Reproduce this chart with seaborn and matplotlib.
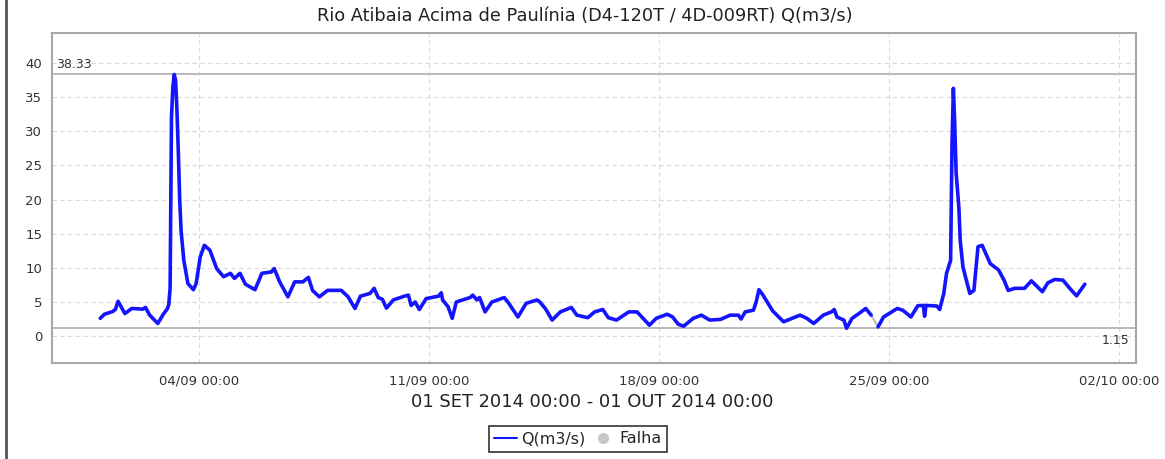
import numpy as np
import pandas as pd
import seaborn as sns
import matplotlib.pyplot as plt
from matplotlib.lines import Line2D
import matplotlib.dates as mdates

# Hours since 01/09/2014 00:00 and the flow read at each one (NaN = gap / falha)
horas = [0, 3, 9, 11, 13, 18, 23, 31, 33, 36, 42, 46, 49, 50, 51, 52, 53, 54, 55, 56,
         57, 58, 59, 61, 64, 68, 70, 73, 76, 80, 85, 90, 95, 98, 102, 106, 113, 118, 125, 127,
         131, 137, 142, 148, 152, 155, 160, 166, 176, 181, 186, 190, 197, 200, 203, 206, 209, 214, 222, 225,
         227, 230, 233, 238, 247, 249, 250, 254, 257, 260, 270, 272, 275, 277, 281, 286, 295, 298, 305, 311,
         319, 321, 325, 330, 336, 344, 348, 356, 361, 367, 371, 377, 386, 392, 401, 406, 414, 418, 422, 426,
         433, 439, 445, 453, 460, 466, 468, 471, 477, 479, 481, 484, 491, 499, 511, 516, 521, 528, 534, 536,
         538, 543, 545, 549, 554, 559, 563, 566, 568, 572, 582, 586, 592, 597, 601, 602, 603, 611, 613, 616,
         618, 621, 622, 623, 624, 625, 627, 628, 630, 635, 638, 641, 644, 650, 656, 660, 663, 668, 675, 680,
         688, 692, 697, 703, 708, 713, 719]
vazao = [2.6, 3.2, 3.6, 3.9, 5.1, 3.3, 4.05, 3.95, 4.2, 3.1, 1.85, 3.2, 4.0, 4.6, 7.0, 32.0, 36.5, 38.33, 37.5, 33.0,
         27.0, 20.0, 15.5, 11.1, 7.7, 6.8, 7.7, 11.6, 13.3, 12.6, 9.9, 8.7, 9.2, 8.45, 9.2, 7.6, 6.8, 9.2, 9.4, 9.9,
         7.95, 5.75, 7.95, 7.95, 8.6, 6.7, 5.75, 6.7, 6.7, 5.75, 4.05, 5.85, 6.25, 7.0, 5.65, 5.4, 4.1, 5.3, 5.85, 6.0,
         4.5, 5.0, 3.9, 5.5, 5.85, 6.35, 5.3, 4.3, 2.6, 5.0, 5.65, 6.0, 5.3, 5.65, 3.55, 5.0, 5.65, 4.9, 2.8, 4.8,
         5.3, 5.0, 4.05, 2.35, 3.55, 4.2, 3.07, 2.7, 3.55, 3.9, 2.7, 2.35, 3.55, 3.55, 1.6, 2.6, 3.2, 2.8, 1.75, 1.45,
         2.6, 3.07, 2.35, 2.45, 3.07, 3.07, 2.5, 3.55, 3.8, 5.0, 6.8, 6.0, 3.7, 2.1, 3.07, 2.6, 1.85, 3.07, 3.55, 3.9,
         2.8, 2.35, 1.15, 2.6, 3.3, 4.05, 3.07, np.nan, 1.36, 2.8, 4.05, 3.8, 2.8, 4.45, 4.5, 2.9, 4.5, 4.4, 3.9, 6.25,
         9.2, 11.1, 28.0, 36.3, 31.0, 24.0, 18.9, 14.0, 10.1, 6.25, 6.7, 13.1, 13.3, 10.6, 9.7, 8.2, 6.7, 7.0, 7.0, 8.1,
         6.5, 7.8, 8.3, 8.2, 7.0, 5.9, 7.6]

q_max = 38.33
q_min = 1.15
xticks = ['2014-09-04', '2014-09-11', '2014-09-18', '2014-09-25', '2014-10-02']
yticks = [0, 5, 10, 15, 20, 25, 30, 35, 40]

inicio = pd.Timestamp('2014-09-01 00:00')
df = pd.DataFrame({'t': inicio + pd.to_timedelta(horas, unit='h'), 'q': vazao})
df['seg'] = df['q'].isna().cumsum()
ok = df.dropna()

sns.set_style('white')
plt.rcParams['font.family'] = ['DejaVu Sans']

fig = plt.figure(figsize=(11.65, 4.59), dpi=100)
ax = fig.add_axes([0.0446, 0.209, 0.9305, 0.719])

# gray line across the gap (Falha), blue series on top
ax.plot(ok['t'], ok['q'], color='#bdbdbd', lw=1.6, zorder=2)
sns.lineplot(data=ok, x='t', y='q', units='seg', estimator=None, ax=ax,
             color='#1414ff', lw=2.6, zorder=3, legend=False)

# min / max reference lines
ax.axhline(q_max, color='#b4b4b4', lw=1.3, zorder=1)
ax.axhline(q_min, color='#b4b4b4', lw=1.3, zorder=1)
ax.text(0.004, q_max + 0.5, f'{q_max:.2f}', transform=ax.get_yaxis_transform(),
        ha='left', va='bottom', fontsize=9, color='#333333')
ax.text(0.994, q_min - 0.8, f'{q_min:.2f}', transform=ax.get_yaxis_transform(),
        ha='right', va='top', fontsize=9, color='#333333')

ax.set_xlim(pd.Timestamp('2014-08-30 12:43'), pd.Timestamp('2014-10-02 12:22'))
ax.set_ylim(-3.95, 44.4)
ax.set_xticks(pd.to_datetime(xticks))
ax.xaxis.set_major_formatter(mdates.DateFormatter('%d/%m %H:%M'))
ax.set_yticks(yticks)
ax.set_xlabel('')
ax.set_ylabel('')

ax.grid(True, ls=(0, (4, 3)), color='#d9d9d9', lw=0.8)
for s in ax.spines.values():
    s.set_color('#a8a8a8')
    s.set_linewidth(1.5)
ax.tick_params(axis='both', length=3, color='#888888', labelsize=9.5,
               labelcolor='#333333', direction='out', pad=4)
ax.tick_params(axis='x', pad=5)

fig.text(0.502, 0.965, 'Rio Atibaia Acima de Paulínia (D4-120T / 4D-009RT) Q(m3/s)',
         ha='center', va='center', fontsize=12.8, color='#222222')
fig.text(0.508, 0.124, '01 SET 2014 00:00 - 01 OUT 2014 00:00',
         ha='center', va='center', fontsize=12.9, color='#222222')

handles = [Line2D([], [], color='#1414ff', lw=1.5),
           Line2D([], [], color='#c8c8c8', marker='o', ls='', markersize=7)]
leg = fig.legend(handles, ['Q(m3/s)', 'Falha'], loc='center', ncol=2,
                 bbox_to_anchor=(0.496, 0.044), frameon=True, fancybox=False,
                 fontsize=11.5, handlelength=1.4, handletextpad=0.3, columnspacing=0.4,
                 borderpad=0.35, borderaxespad=0)
leg.get_frame().set_edgecolor('black')
leg.get_frame().set_linewidth(1.2)

# left border line of the original screenshot
fig.add_artist(Line2D([0.0055, 0.0055], [0, 1], color='#555555', lw=2.0))

fig.savefig('out.png', dpi=100)
